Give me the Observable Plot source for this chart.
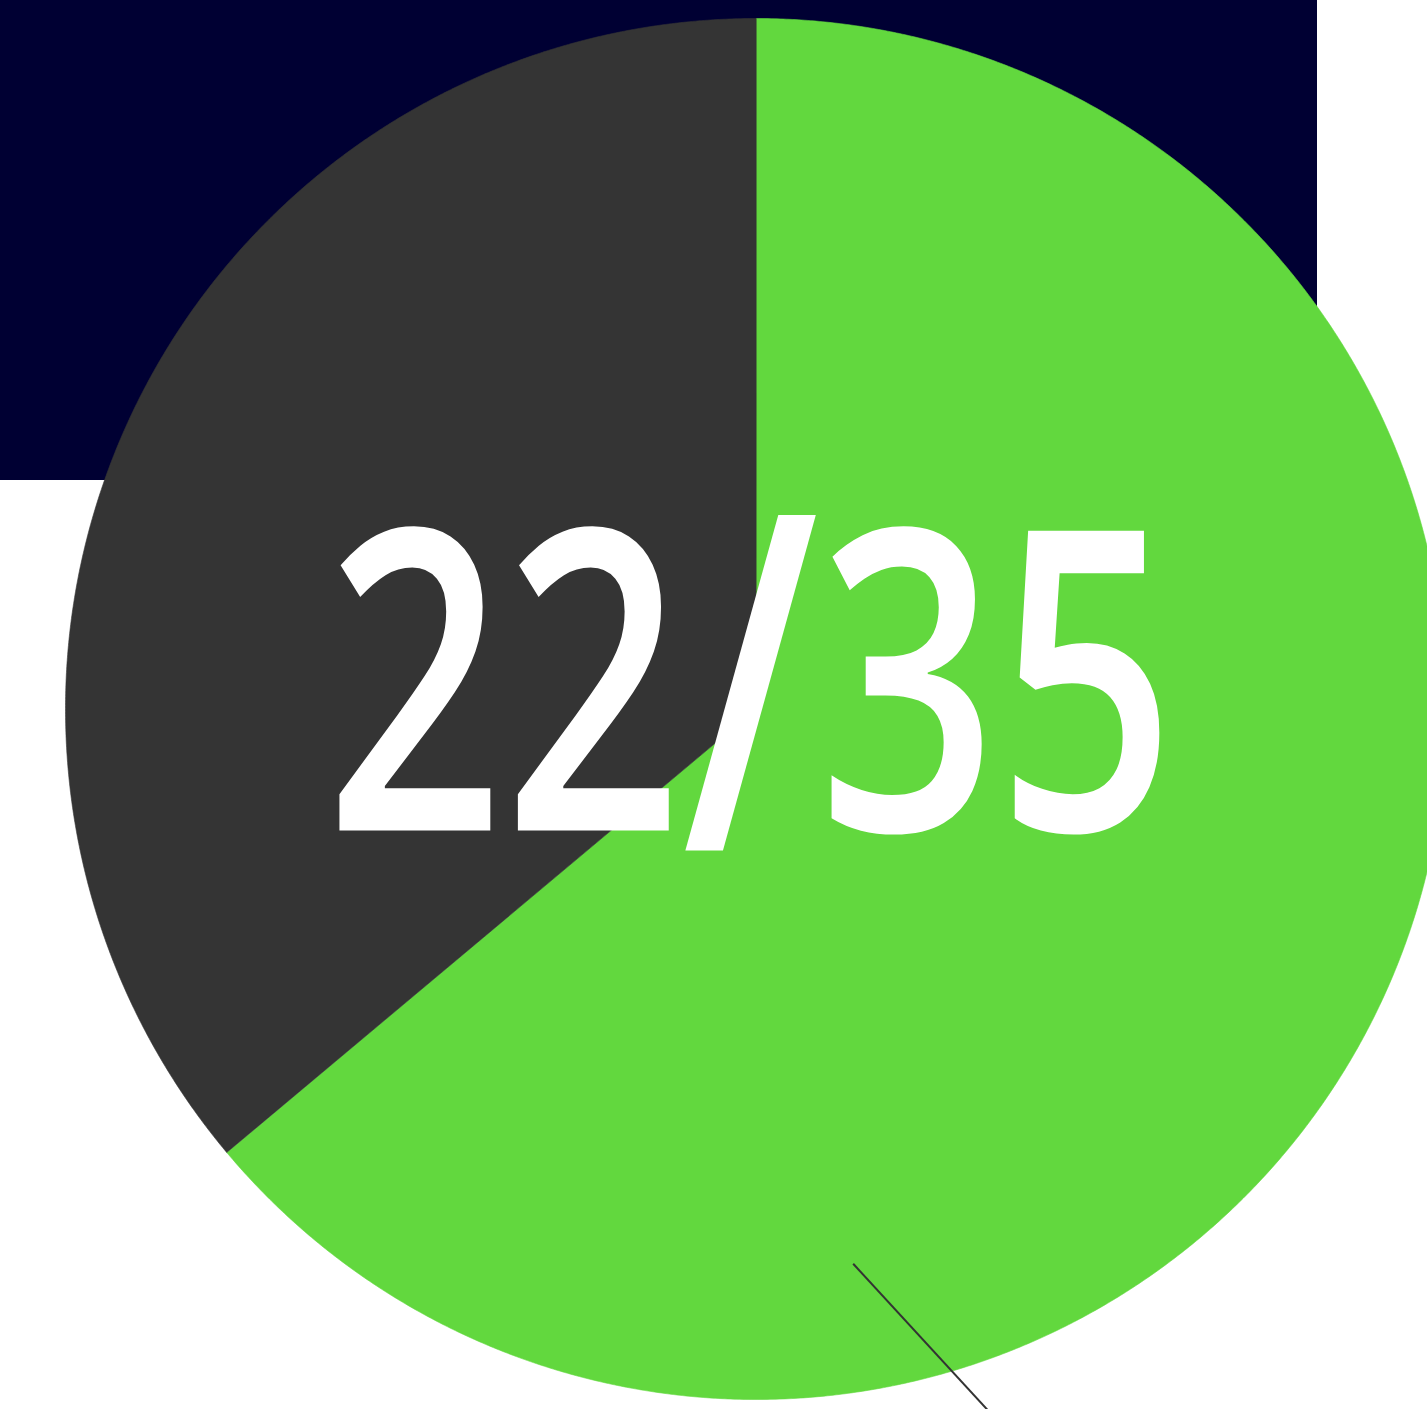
<!DOCTYPE html>
<html><head><meta charset="utf-8">
<script src="https://cdn.jsdelivr.net/npm/d3@7"></script>
<script src="https://cdn.jsdelivr.net/npm/@observablehq/plot@0.6"></script>
<style>
html,body{margin:0;padding:0;background:#fff;}
#wrap{position:relative;width:1427px;height:1409px;overflow:hidden;}
#band{position:absolute;left:0;top:0;width:1317px;height:480px;background:#000033;}
#chart{position:absolute;left:0;top:0;}
</style></head><body>
<div id="wrap"><div id="band"></div><div id="chart"></div></div>
<script>
// ---- data ----
const categories = ["Achieved", "Remaining"];
const sliceShares = [63.9, 36.1];
const sliceColors = ["#62d83e", "#343434"];
const labelNumerator = 22;
const labelDenominator = 35;

// ---- layout ----
const W = 1427, H = 1409;
const cx = 755.5, cy = 708.5, R = 690.5;
const labelWidth = 850;

const slices = categories.map((c, i) => ({category: c, value: sliceShares[i]}));
const arcs = d3.pie().sort(null).value(d => d.value)(slices);
const pts = [];
arcs.forEach(a => {
  const c = a.data.category;
  pts.push({slice: c, px: cx, py: cy});
  const n = Math.max(2, Math.ceil((a.endAngle - a.startAngle) / (Math.PI / 720)));
  for (let k = 0; k <= n; k++) {
    const t = a.startAngle + (a.endAngle - a.startAngle) * k / n;
    pts.push({slice: c, px: cx + R * Math.sin(t), py: cy - R * Math.cos(t)});
  }
});

const leader = [{x1: 852.7, y1: 1263.3, x2: 1040, y2: 1467}];
const label = [{t: `${labelNumerator}/${labelDenominator}`, px: 750, py: 830}];

const chart = Plot.plot({
  width: W, height: H,
  margin: 0,
  style: {background: "transparent"},
  x: {domain: [0, W], range: [0, W], axis: null},
  y: {domain: [0, H], range: [0, H], axis: null},
  color: {domain: categories, range: sliceColors},
  marks: [
    Plot.line(pts, {x: "px", y: "py", z: "slice", fill: "slice", stroke: "slice", strokeWidth: 0.6, curve: "linear-closed"}),
    Plot.link(leader, {x1: "x1", y1: "y1", x2: "x2", y2: "y2", stroke: "#333333", strokeWidth: 2}),
    Plot.text(label, {x: "px", y: "py", text: "t", fill: "white", fontSize: 420, fontFamily: "Open Sans", fontWeight: 650, lineAnchor: "bottom", textAnchor: "middle"})
  ]
});
document.getElementById("chart").appendChild(chart);
const NS = "http://www.w3.org/2000/svg";
chart.querySelectorAll('g[aria-label="text"] text').forEach(t => {
  const s = t.textContent;
  const i = s.indexOf("/");
  t.textContent = "";
  const parts = [[s.slice(0, i), null, 0], ["/", 470, 20], [s.slice(i + 1), 420, -20]];
  parts.forEach(([txt, fs, dy]) => {
    const sp = document.createElementNS(NS, "tspan");
    sp.textContent = txt;
    if (fs) sp.setAttribute("font-size", fs);
    if (dy) sp.setAttribute("dy", dy);
    t.appendChild(sp);
  });
  // condense horizontally around the anchor point
  let tx = +t.getAttribute("x") || 0, ty = +t.getAttribute("y") || 0;
  const tr = t.getAttribute("transform") || "";
  const m = tr.match(/translate\(([-\d.]+)[ ,]+([-\d.]+)\)/);
  if (m) { tx += +m[1]; ty += +m[2]; }
  t.setAttribute("x", 0); t.setAttribute("y", 0);
  const len = t.getComputedTextLength();
  const sx = labelWidth / len;
  t.setAttribute("transform", `translate(${tx},${ty}) scale(${sx},1)`);
});
</script>
</body></html>
